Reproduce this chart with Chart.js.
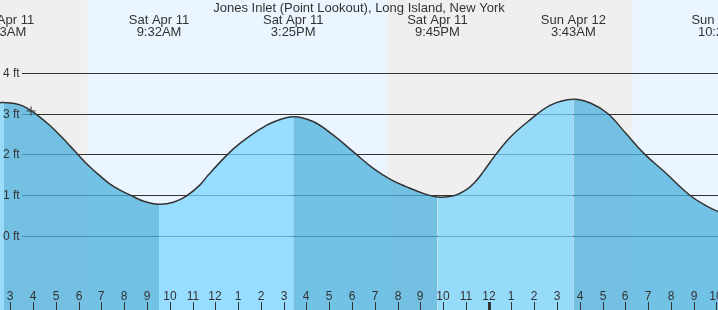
<!DOCTYPE html>
<html>
<head>
<meta charset="utf-8">
<title>Jones Inlet tide chart</title>
<script src="https://cdn.jsdelivr.net/npm/chart.js@4.4.1/dist/chart.umd.min.js"></script>
<style>
    html, body { margin: 0; padding: 0; background: #fff; }
    #wrap { width: 718px; height: 310px; }
</style>
</head>
<body>
<div id="wrap"><canvas id="graficoMarea" width="718" height="310"></canvas></div>
<script>
// horas desde la medianoche del sabado 11 de abril
const tideHours = [2.55, 2.72, 3.43, 3.87, 4.30, 4.74, 5.18, 5.62, 6.06, 6.50, 6.94, 7.38, 7.82, 8.33, 8.84, 9.53,
    10.16, 10.74, 11.33, 11.69, 12.54, 13.08, 13.96, 14.53, 15.42,
    16.29, 17.17, 18.13, 18.92, 19.73, 20.40, 21.13, 21.75,
    22.45, 23.04, 23.47, 23.76, 24.32, 24.98, 25.73, 26.74, 27.72,
    28.49, 29.24, 30.05, 30.86, 31.74, 32.82, 33.50, 34.07, 34.33];
const tideFeet = [3.27, 3.28, 3.22, 3.09, 2.92, 2.71, 2.47, 2.21, 1.94, 1.69, 1.47, 1.27, 1.12, 0.98, 0.85, 0.77,
    0.82, 0.98, 1.25, 1.49, 2.00, 2.27, 2.62, 2.79, 2.93,
    2.81, 2.48, 2.03, 1.66, 1.37, 1.20, 1.04, 0.95,
    0.98, 1.14, 1.36, 1.57, 2.00, 2.44, 2.81, 3.22, 3.36,
    3.26, 3.00, 2.50, 2.00, 1.56, 1.00, 0.75, 0.59, 0.53];

// pleamares y bajamares
const extremeHours = [2.72, 9.53, 15.42, 21.75, 27.72, 34.33];
const extremeDays = ['Sat Apr 11', 'Sat Apr 11', 'Sat Apr 11', 'Sat Apr 11', 'Sun Apr 12', 'Sun Apr 12'];
const extremeTimes = ['2:43AM', '9:32AM', '3:25PM', '9:45PM', '3:43AM', '10:20AM'];

// noche (gris)
const nightStart = [0, 19.54];
const nightEnd = [6.37, 30.34];

// hora actual
const nowHour = [3.91];
const nowFeet = [3.07];

const feetTicks = [0, 1, 2, 3, 4];
const feetLabels = ['0 ft', '1 ft', '2 ft', '3 ft', '4 ft'];
const hourTicks = [3, 4, 5, 6, 7, 8, 9, 10, 11, 12, 13, 14, 15, 16, 17, 18, 19, 20, 21, 22, 23, 24,
    25, 26, 27, 28, 29, 30, 31, 32, 33, 34];
const hourLabels = ['3', '4', '5', '6', '7', '8', '9', '10', '11', '12', '1', '2', '3', '4', '5', '6', '7', '8', '9', '10', '11', '12',
    '1', '2', '3', '4', '5', '6', '7', '8', '9', '10'];

const titulo = 'Jones Inlet (Point Lookout), Long Island, New York';
const fuenteArriba = '13px "Liberation Sans", Arial, sans-serif';
const fuente = '12px "Liberation Sans", Arial, sans-serif';
const colorTexto = '#333';
const colorDia = '#ebf5ff';
const colorNoche = '#efefef';
const aguaSube = 'rgba(122, 212, 255, 0.75)';
const aguaBaja = 'rgba(74, 176, 222, 0.75)';

const fondoMarea = {
    id: 'fondoMarea',
    beforeDatasetsDraw(chart) {
        const {ctx, chartArea: a, scales: {x, y}} = chart;
        ctx.save();
        ctx.fillStyle = colorDia;
        ctx.fillRect(a.left, a.top, a.width, a.height);
        ctx.fillStyle = colorNoche;
        for (let i = 0; i < nightStart.length; i++) {
            let x0 = Math.max(Math.round(x.getPixelForValue(nightStart[i])), a.left);
            let x1 = Math.min(Math.round(x.getPixelForValue(nightEnd[i])), a.right);
            ctx.fillRect(x0, a.top, x1 - x0, a.height);
        }
        ctx.strokeStyle = '#333';
        ctx.lineWidth = 1;
        feetTicks.forEach(function(v) {
            let py = Math.round(y.getPixelForValue(v)) + 0.5;
            ctx.beginPath();
            ctx.moveTo(22, py);
            ctx.lineTo(a.right, py);
            ctx.stroke();
        });
        ctx.restore();
    },
    afterDraw(chart) {
        const {ctx, chartArea: a, scales: {x, y}} = chart;
        ctx.save();
        ctx.font = fuente;
        ctx.fillStyle = colorTexto;
        ctx.textBaseline = 'middle';
        ctx.textAlign = 'left';
        feetTicks.forEach(function(v, i) {
            ctx.fillText(feetLabels[i], 3, Math.round(y.getPixelForValue(v)) + 0.5);
        });

        // horas abajo
        ctx.textBaseline = 'alphabetic';
        ctx.textAlign = 'center';
        ctx.strokeStyle = '#333';
        hourTicks.forEach(function(h, i) {
            let px = Math.round(x.getPixelForValue(h));
            ctx.fillText(hourLabels[i], px, 300);
            ctx.lineWidth = (h % 24 === 0) ? 3 : 1;
            ctx.beginPath();
            ctx.moveTo(px + 0.5, 302);
            ctx.lineTo(px + 0.5, a.bottom);
            ctx.stroke();
        });

        // titulo y marcas de marea
        ctx.font = fuenteArriba;
        ctx.fillText(titulo, (a.left + a.right) / 2, 12);
        extremeHours.forEach(function(h, i) {
            let px = x.getPixelForValue(h);
            ctx.fillText(extremeDays[i], px, 24);
            ctx.fillText(extremeTimes[i], px, 36);
        });
        ctx.restore();
    }
};

let ctx = document.getElementById('graficoMarea').getContext('2d');
let tideData = tideHours.map(function(h, i) { return {x: h, y: tideFeet[i]}; });
let nowData = nowHour.map(function(h, i) { return {x: h, y: nowFeet[i]}; });

let graficoMarea = new Chart(ctx, {
    type: 'line',
    data: {
        datasets: [{
            data: nowData,
            showLine: false,
            pointStyle: 'cross',
            pointRadius: 4.5,
            pointBorderColor: '#333',
            pointBorderWidth: 1,
            order: 0
        }, {
            data: tideData,
            borderColor: '#333',
            borderWidth: 1.5,
            pointRadius: 0,
            tension: 0.4,
            fill: 'start',
            backgroundColor: aguaSube,
            segment: {
                backgroundColor: function(c) {
                    return c.p1.parsed.y < c.p0.parsed.y ? aguaBaja : aguaSube;
                }
            },
            order: 1
        }]
    },
    options: {
        responsive: false,
        animation: false,
        devicePixelRatio: 1,
        layout: { padding: 0, autoPadding: false },
        plugins: {
            legend: { display: false },
            title: { display: false },
            tooltip: { enabled: false }
        },
        scales: {
            x: { type: 'linear', min: 2.548, max: 34.07, display: false },
            y: { type: 'linear', min: -1.833, max: 5.803, display: false }
        }
    },
    plugins: [fondoMarea]
});
</script>
</body>
</html>
